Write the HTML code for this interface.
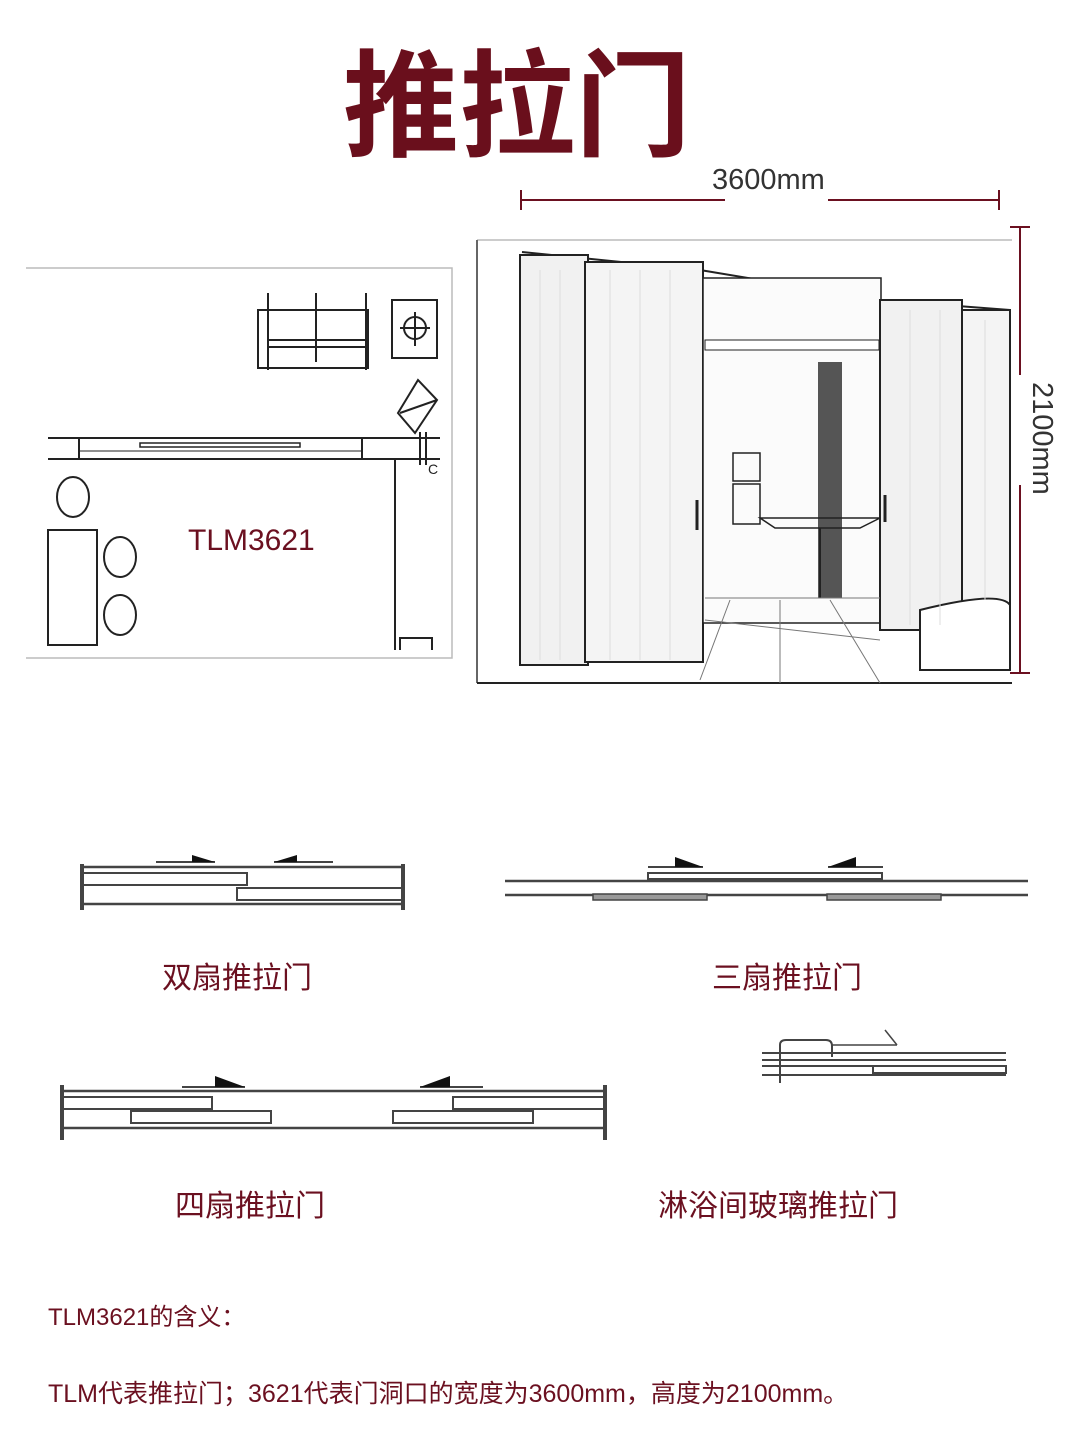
<!DOCTYPE html>
<html><head><meta charset="utf-8"><style>
html,body{margin:0;padding:0;background:#fff;}
body{width:1080px;height:1440px;position:relative;overflow:hidden;font-family:"Liberation Sans","Noto Sans CJK SC",sans-serif;}
.t{position:absolute;color:#6b1020;white-space:nowrap;}
</style></head><body>
<div class="t" style="left:343px;top:22px;font-size:116px;font-weight:bold;letter-spacing:0px;line-height:150px;font-family:'Noto Sans CJK SC',sans-serif;color:#6a0f1c;">推拉门</div>
<svg width="1080" height="1440" style="position:absolute;left:0;top:0" xmlns="http://www.w3.org/2000/svg">
<g fill="none" stroke="#222" stroke-width="2">
<!-- floor plan -->
<path d="M26 268 H452 V658 H26" stroke="#bbb" stroke-width="1.5"/>
<line x1="48" y1="438" x2="440" y2="438"/><line x1="48" y1="459" x2="440" y2="459"/>
<line x1="79" y1="438" x2="79" y2="459"/><line x1="362" y1="438" x2="362" y2="459"/>
<rect x="140" y="443" width="160" height="4" stroke-width="1.5"/>
<line x1="79" y1="451" x2="362" y2="451" stroke-width="1"/>
<line x1="395" y1="459" x2="395" y2="650"/>
<rect x="48" y="530" width="49" height="115"/>
<ellipse cx="73" cy="497" rx="16" ry="20"/><ellipse cx="120" cy="557" rx="16" ry="20"/><ellipse cx="120" cy="615" rx="16" ry="20"/>
<rect x="258" y="310" width="110" height="58"/><line x1="268" y1="293" x2="268" y2="370"/><line x1="316" y1="293" x2="316" y2="362"/><line x1="366" y1="293" x2="366" y2="370"/>
<line x1="268" y1="340" x2="366" y2="340"/><line x1="268" y1="347" x2="366" y2="347"/>
<rect x="392" y="300" width="45" height="58"/><circle cx="415" cy="328" r="11"/><line x1="400" y1="328" x2="430" y2="328"/><line x1="415" y1="312" x2="415" y2="346"/>
<path d="M398 413 L418 380 L437 400 L415 433 Z"/><line x1="400" y1="413" x2="437" y2="400"/>
<line x1="420" y1="432" x2="420" y2="465"/><line x1="426" y1="432" x2="426" y2="465"/>
<path d="M400 650 V638 H432 V650"/>
<!-- dimension lines -->
<g stroke="#6b1020"><line x1="521" y1="200" x2="725" y2="200"/><line x1="828" y1="200" x2="999" y2="200"/><line x1="521" y1="190" x2="521" y2="210"/><line x1="999" y1="190" x2="999" y2="210"/>
<line x1="1020" y1="227" x2="1020" y2="375"/><line x1="1020" y1="485" x2="1020" y2="673"/><line x1="1010" y1="227" x2="1030" y2="227"/><line x1="1010" y1="673" x2="1030" y2="673"/></g>
<!-- room -->
<line x1="477" y1="240" x2="1012" y2="240" stroke="#ccc"/><line x1="477" y1="240" x2="477" y2="683" stroke="#666"/><line x1="477" y1="683" x2="1012" y2="683"/>
<path d="M522 252 L700 270 L880 300 L1010 310"/>
<rect x="520" y="255" width="68" height="410" fill="#f1f1f1"/>
<rect x="585" y="262" width="118" height="400" fill="#f4f4f4"/>
<rect x="703" y="278" width="178" height="345" fill="#fbfbfb" stroke-width="1.5"/>
<rect x="880" y="300" width="82" height="330" fill="#f1f1f1"/>
<rect x="962" y="310" width="48" height="330" fill="#f4f4f4"/>
<rect x="705" y="340" width="174" height="10" stroke-width="1" fill="#fff"/>
<rect x="818" y="362" width="24" height="236" fill="#555" stroke="none"/>
<rect x="733" y="453" width="27" height="28" stroke-width="1.5"/><rect x="733" y="484" width="27" height="40" stroke-width="1.5"/>
<path d="M760 518 L880 518 L860 528 L775 528 Z" stroke-width="1.5"/><line x1="820" y1="528" x2="820" y2="598"/>
<path d="M705 598 L880 598 M705 620 L880 640 M730 600 L700 680 M780 600 L780 683 M830 600 L880 683" stroke-width="1" stroke="#777"/>
<path d="M920 610 Q1000 590 1010 605 V670 H920 Z" fill="#fff"/>
<line x1="697" y1="500" x2="697" y2="530" stroke-width="3"/><line x1="885" y1="495" x2="885" y2="522" stroke-width="3"/>
<g stroke="#ddd" stroke-width="1"><line x1="540" y1="270" x2="540" y2="660"/><line x1="560" y1="270" x2="560" y2="660"/><line x1="610" y1="270" x2="610" y2="660"/><line x1="640" y1="270" x2="640" y2="660"/><line x1="670" y1="270" x2="670" y2="660"/><line x1="910" y1="310" x2="910" y2="625"/><line x1="940" y1="310" x2="940" y2="625"/><line x1="985" y1="320" x2="985" y2="600"/></g>
</g>
<!-- bottom diagrams -->
<g fill="none" stroke="#444" stroke-width="2.5">
<line x1="82" y1="867" x2="403" y2="867"/><line x1="82" y1="904" x2="403" y2="904"/>
<line x1="82" y1="864" x2="82" y2="910" stroke-width="4"/><line x1="403" y1="864" x2="403" y2="910" stroke-width="4"/>
<rect x="82" y="873" width="165" height="12" stroke-width="2"/><rect x="237" y="888" width="166" height="12" stroke-width="2"/>
<line x1="156" y1="862" x2="215" y2="862" stroke-width="2"/><line x1="274" y1="862" x2="333" y2="862" stroke-width="2"/>
<line x1="505" y1="881" x2="1028" y2="881"/><line x1="505" y1="895" x2="1028" y2="895"/>
<rect x="648" y="873" width="234" height="6" stroke-width="2"/>
<rect x="593" y="894" width="114" height="6" fill="#999" stroke-width="1.5"/><rect x="827" y="894" width="114" height="6" fill="#999" stroke-width="1.5"/>
<line x1="648" y1="867" x2="703" y2="867" stroke-width="2"/><line x1="828" y1="867" x2="883" y2="867" stroke-width="2"/>
<line x1="62" y1="1091" x2="605" y2="1091"/><line x1="62" y1="1128" x2="605" y2="1128"/>
<line x1="62" y1="1085" x2="62" y2="1140" stroke-width="4"/><line x1="605" y1="1085" x2="605" y2="1140" stroke-width="4"/>
<rect x="62" y="1097" width="150" height="12" stroke-width="2"/><rect x="131" y="1111" width="140" height="12" stroke-width="2"/>
<rect x="453" y="1097" width="152" height="12" stroke-width="2"/><rect x="393" y="1111" width="140" height="12" stroke-width="2"/>
<line x1="182" y1="1087" x2="245" y2="1087" stroke-width="2"/><line x1="420" y1="1087" x2="483" y2="1087" stroke-width="2"/>
<line x1="762" y1="1053" x2="1006" y2="1053" stroke-width="2"/><line x1="762" y1="1060" x2="1006" y2="1060" stroke-width="2"/>
<line x1="762" y1="1075" x2="1006" y2="1075" stroke-width="2"/><rect x="873" y="1066" width="133" height="7" stroke-width="2"/>
<line x1="762" y1="1066" x2="873" y2="1066" stroke-width="2"/>
<path d="M780 1083 V1045 Q780 1040 786 1040 H826 Q832 1040 832 1046 V1057" stroke-width="2"/>
<line x1="832" y1="1045" x2="897" y2="1045" stroke-width="1.5"/><line x1="885" y1="1030" x2="897" y2="1045" stroke-width="1.5"/>
</g>
<g fill="#111">
<path d="M192 855 L215 862 L192 862 Z"/><path d="M297 855 L274 862 L297 862 Z"/>
<path d="M675 857 L703 867 L675 867 Z"/><path d="M856 857 L828 867 L856 867 Z"/>
<path d="M215 1076 L245 1087 L215 1087 Z"/><path d="M450 1076 L420 1087 L450 1087 Z"/>
</g>
<text x="428" y="474" font-size="14" font-family="Liberation Sans" fill="#222">C</text>
</svg>
<div class="t" style="left:712px;top:164px;font-size:29px;color:#333;">3600mm</div>
<div class="t" style="top:382px;font-size:29px;color:#333;transform:rotate(90deg);transform-origin:0 0;left:1058px;">2100mm</div>
<div class="t" style="left:188px;top:524px;font-size:30px;">TLM3621</div>
<div class="t" style="left:162px;top:953px;font-size:30px;font-family:'Noto Sans CJK SC',sans-serif;">双扇推拉门</div>
<div class="t" style="left:712px;top:953px;font-size:30px;font-family:'Noto Sans CJK SC',sans-serif;">三扇推拉门</div>
<div class="t" style="left:175px;top:1181px;font-size:30px;font-family:'Noto Sans CJK SC',sans-serif;">四扇推拉门</div>
<div class="t" style="left:658px;top:1181px;font-size:30px;font-family:'Noto Sans CJK SC',sans-serif;">淋浴间玻璃推拉门</div>
<div class="t" style="left:48px;top:1297px;font-size:24px;">TLM3621的含义：</div>
<div class="t" style="left:48px;top:1374px;font-size:25px;">TLM代表推拉门；3621代表门洞口的宽度为3600mm，高度为2100mm。</div>
</body></html>
